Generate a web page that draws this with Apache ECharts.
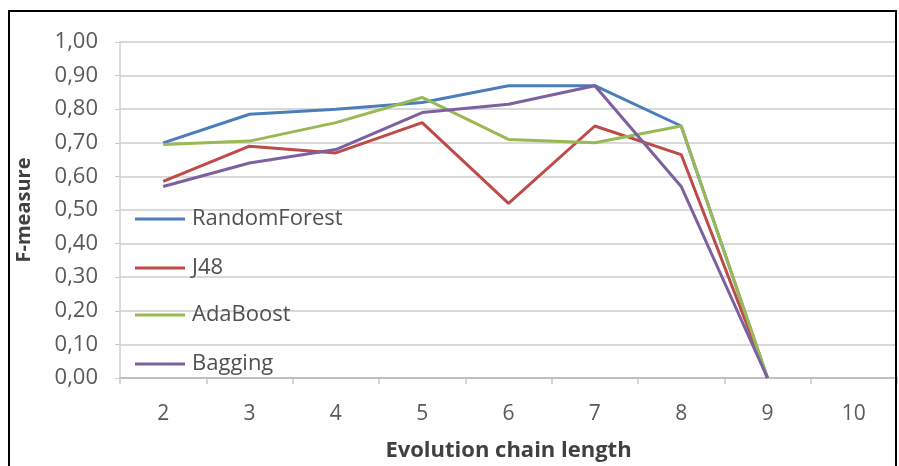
<!DOCTYPE html>
<html><head><meta charset="utf-8">
<script src="https://cdn.jsdelivr.net/npm/echarts@6/dist/echarts.min.js"></script>
<style>html,body{margin:0;padding:0;background:#fff}#c{width:899px;height:466px}</style>
</head><body><div id="c"></div>
<script>
const categories = ['2','3','4','5','6','7','8','9','10'];
const randomForest = [0.70, 0.785, 0.80, 0.82, 0.87, 0.87, 0.75, 0.00, null];
const j48 = [0.585, 0.69, 0.67, 0.76, 0.52, 0.75, 0.665, 0.00, null];
const adaBoost = [0.695, 0.705, 0.76, 0.835, 0.71, 0.70, 0.75, 0.00, null];
const bagging = [0.57, 0.64, 0.68, 0.79, 0.815, 0.87, 0.57, 0.00, null];
const seriesNames = ['RandomForest','J48','AdaBoost','Bagging'];
const colors = ['#4a7ebb','#be4b48','#98b954','#7d60a0'];
const seriesData = [randomForest, j48, adaBoost, bagging];

const font = '"Open Sans", Lato, sans-serif';
const chart = echarts.init(document.getElementById('c'));
const legendCenters = [217, 266, 313, 362];
chart.setOption({
  animation: false,
  backgroundColor: '#fff',
  grid: {left: 120, right: 2, top: 42, bottom: 88, containLabel:false, outerBoundsMode:'none'},
  graphic: [{type:'rect', shape:{x:9, y:11, width:887, height:470}, style:{fill:'none', stroke:'#000', lineWidth:2}, z:100}],
  legend: seriesNames.map((n,i)=>({
    data:[n], orient:'vertical', left:130, top:legendCenters[i]-9, padding:[0,5,0,5],
    icon:'rect', itemWidth:50, itemHeight:3, itemGap:4,
    textStyle:{fontFamily:font, fontSize:22, color:'#505050', padding:[0,0,0,2]}
  })),
  xAxis: {
    type:'category', data:categories, boundaryGap:true,
    name:'Evolution chain length', nameLocation:'middle', nameGap:62,
    nameTextStyle:{fontFamily:font, fontSize:22, fontWeight:'bold', color:'#404040'},
    axisLine:{lineStyle:{color:'#bfbfbf', width:2}},
    axisTick:{show:true, length:6, lineStyle:{color:'#c8c8c8', width:1.5}},
    axisLabel:{fontFamily:font, fontSize:21, color:'#595959', margin:26}
  },
  yAxis: {
    type:'value', min:0, max:1, interval:0.1,
    name:'F-measure', nameLocation:'middle', nameGap:86, nameRotate:90,
    nameTextStyle:{fontFamily:font, fontSize:20, fontWeight:'bold', color:'#404040'},
    axisLine:{show:true, lineStyle:{color:'#d0d0d0', width:1.5}},
    axisTick:{show:true, length:5, lineStyle:{color:'#c8c8c8'}},
    axisLabel:{fontFamily:font, fontSize:22, color:'#595959', margin:22,
      formatter:v=>v.toFixed(2).replace('.',',')},
    splitLine:{lineStyle:{color:'#d9d9d9', width:2}}
  },
  series: seriesNames.map((n,i)=>({
    name:n, type:'line', data:seriesData[i], showSymbol:false, symbol:'none',
    lineStyle:{width:3, color:colors[i]}, itemStyle:{color:colors[i]}
  }))
});
</script></body></html>
